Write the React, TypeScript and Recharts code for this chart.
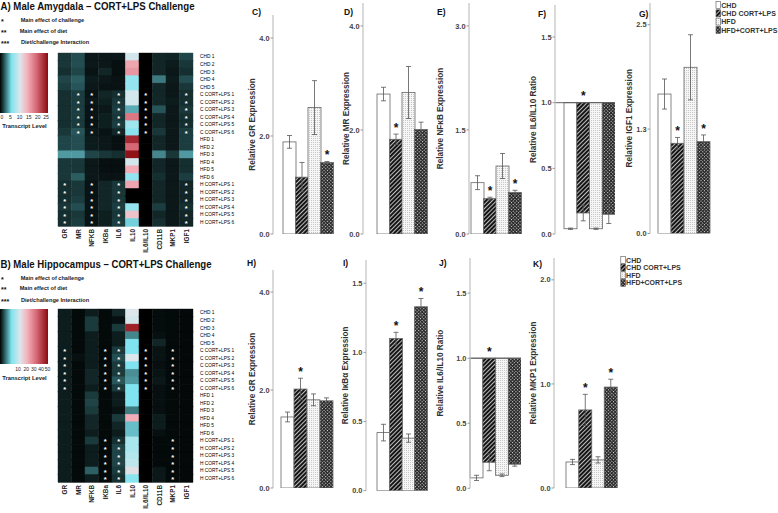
import React from 'react';
import { BarChart, Bar, XAxis, YAxis, ErrorBar, ReferenceLine } from 'recharts';

if (typeof document !== 'undefined') {
  document.body.style.margin = '0';
  document.body.style.background = '#ffffff';
}

const FONT = '"Liberation Sans", Arial, Helvetica, sans-serif';
const INK = '#222222';

// ---------------- data ----------------
const groups = ['CHD', 'CHD CORT+LPS', 'HFD', 'HFD+CORT+LPS'];
const geneCols = ['GR', 'MR', 'NFKB', 'IKBa', 'IL6', 'IL10', 'IL6/IL10', 'CD11B', 'MKP1', 'IGF1'];
const rowLabels = [
  'CHD 1', 'CHD 2', 'CHD 3', 'CHD 4', 'CHD 5',
  'C CORT+LPS 1', 'C CORT+LPS 2', 'C CORT+LPS 3', 'C CORT+LPS 4', 'C CORT+LPS 5', 'C CORT+LPS 6',
  'HFD 1', 'HFD 2', 'HFD 3', 'HFD 4', 'HFD 5', 'HFD 6',
  'H CORT+LPS 1', 'H CORT+LPS 2', 'H CORT+LPS 3', 'H CORT+LPS 4', 'H CORT+LPS 5', 'H CORT+LPS 6',
];

// transcript levels (GR, MR, NFKB, IKBa, IL6, IL10, IL6/IL10, CD11B, MKP1, IGF1)
const amygdalaLevels = [
  [1.4, 2.0, 0.6, 0.6, 0.6, 10, 0, 1.0, 0.9, 1.8],
  [1.4, 2.0, 0.6, 0.6, 0.4, 15, 0, 1.0, 0.7, 1.4],
  [1.2, 1.8, 0.5, 1.0, 0.4, 16, 0, 1.0, 0.6, 1.2],
  [1.8, 2.4, 0.7, 0.6, 0.5, 7, 0, 3.2, 0.7, 2.0],
  [1.6, 2.2, 0.6, 0.5, 0.5, 7, 0, 1.0, 0.6, 1.4],
  [1.2, 1.6, 0.5, 1.0, 1.2, 10, 0, 1.0, 0.6, 1.2],
  [1.2, 1.6, 0.6, 0.8, 1.4, 10, 0, 1.0, 0.7, 1.2],
  [1.2, 1.6, 0.5, 0.6, 1.6, 4.5, 0, 2.2, 0.6, 1.4],
  [1.2, 1.6, 0.5, 0.8, 1.4, 18, 0, 1.0, 0.6, 1.2],
  [1.2, 1.5, 0.5, 0.8, 1.6, 7.5, 0, 1.0, 0.6, 1.2],
  [1.4, 2.2, 0.6, 0.5, 1.0, 6.5, 0, 1.4, 0.6, 1.6],
  [1.8, 2.0, 0.7, 0.6, 0.4, 23, 0, 1.0, 0.6, 1.6],
  [1.8, 2.0, 0.7, 0.6, 0.4, 19, 0, 1.0, 0.6, 1.6],
  [4.0, 4.0, 1.8, 1.4, 1.2, 24.5, 0, 3.5, 1.4, 4.0],
  [1.4, 1.4, 0.6, 0.4, 0.4, 10, 0, 1.0, 0.6, 1.2],
  [1.4, 1.4, 0.6, 0.4, 0.4, 14.5, 0, 1.0, 0.6, 1.2],
  [1.4, 2.4, 0.6, 0.5, 0.5, 7, 0, 1.2, 0.6, 1.6],
  [1.2, 1.4, 0.5, 1.0, 1.4, 15, 0, 1.0, 0.6, 1.0],
  [1.2, 1.4, 0.5, 1.0, 1.4, 0, 0, 1.0, 0.6, 1.0],
  [1.2, 1.6, 0.5, 1.0, 1.4, 0, 0, 1.0, 0.6, 1.0],
  [1.4, 2.0, 0.5, 1.0, 1.6, 7, 0, 1.6, 0.6, 1.2],
  [1.2, 1.4, 0.5, 0.8, 1.4, 13, 0, 1.0, 0.6, 1.0],
  [1.2, 1.6, 0.5, 0.8, 1.6, 5.5, 0, 1.2, 0.6, 1.0],
];
const hippocampusLevels = [
  [1.5, 0.5, 1.5, 0.5, 2.0, 21, 0, 0.6, 0.5, 0.4],
  [1.5, 0.5, 3.0, 0.5, 0.8, 20, 0, 0.6, 0.5, 0.4],
  [1.5, 0.5, 3.0, 0.5, 3.0, 47, 0, 0.6, 0.5, 0.4],
  [1.5, 0.5, 1.5, 0.5, 1.5, 7, 0, 0.8, 0.5, 0.4],
  [1.5, 0.5, 1.5, 0.5, 1.5, 12, 0, 2.0, 0.5, 0.4],
  [1.5, 0.5, 1.5, 0.5, 3.0, 12, 0, 1.0, 0.5, 0.4],
  [1.5, 0.8, 1.5, 0.5, 4.0, 21, 0, 1.0, 0.5, 0.4],
  [1.5, 0.5, 1.5, 0.5, 3.0, 12, 0, 0.8, 0.5, 0.4],
  [1.5, 0.5, 2.0, 0.5, 3.0, 7.5, 0, 1.0, 0.5, 0.4],
  [1.5, 0.5, 2.0, 0.5, 4.5, 8, 0, 1.2, 0.5, 0.4],
  [1.5, 0.5, 1.5, 0.5, 3.0, 12, 0, 0.8, 0.5, 0.4],
  [1.5, 0.5, 3.0, 0.5, 1.5, 12, 0, 0.8, 0.5, 0.4],
  [1.5, 0.5, 3.5, 0.5, 1.5, 12, 0, 0.8, 0.5, 0.4],
  [1.5, 0.5, 3.0, 0.5, 1.0, 6.5, 0, 0.8, 0.5, 0.4],
  [1.5, 0.5, 2.0, 0.5, 3.0, 29, 0, 1.5, 0.5, 0.4],
  [1.5, 0.5, 2.0, 0.5, 2.0, 10, 0, 1.5, 0.5, 0.4],
  [1.5, 0.5, 1.5, 0.5, 1.5, 10, 0, 0.8, 0.5, 0.4],
  [1.5, 0.5, 3.0, 0.5, 2.5, 16, 0, 0.5, 0.5, 0.4],
  [1.5, 0.5, 1.5, 0.5, 3.5, 16, 0, 0.5, 0.5, 0.4],
  [1.5, 0.5, 1.5, 0.5, 3.5, 17, 0, 0.5, 0.5, 0.4],
  [1.5, 0.5, 1.5, 0.5, 3.5, 18, 0, 0.5, 0.5, 0.4],
  [1.5, 0.5, 5.0, 0.5, 3.0, 22, 0, 1.2, 0.5, 0.4],
  [1.5, 0.5, 1.5, 0.5, 2.5, 13, 0, 1.2, 0.5, 0.4],
];
const amygdalaStarsC = [1, 2, 4, 6, 9];
const amygdalaStarsH = [0, 2, 4, 9];
const hippocampusStarsC = [0, 3, 4, 6, 8];
const hippocampusStarsH = [3, 4, 8];
const amygdalaScaleLabels = [0, 5, 10, 15, 20, 25];
const hippocampusScaleLabels = [10, 20, 30, 40, 50];

// bar panels
const amyGR_mean = [1.88, 1.16, 2.58, 1.46];
const amyGR_sem = [0.13, 0.3, 0.55, 0.02];
const amyGR_star = [0, 0, 0, 1];
const amyMR_mean = [2.69, 1.82, 2.72, 2.01];
const amyMR_sem = [0.13, 0.1, 0.5, 0.14];
const amyMR_star = [0, 1, 0, 0];
const amyNFkB_mean = [0.74, 0.51, 0.98, 0.6];
const amyNFkB_sem = [0.1, 0.02, 0.18, 0.03];
const amyNFkB_star = [0, 1, 0, 1];
const amyRatio_mean = [0.04, 0.16, 0.04, 0.15];
const amyRatio_sem = [0.005, 0.06, 0.005, 0.07];
const amyRatio_star = [0, 1, 0, 0];
const amyIGF1_mean = [1.67, 1.08, 1.99, 1.1];
const amyIGF1_sem = [0.18, 0.07, 0.39, 0.08];
const amyIGF1_star = [0, 1, 0, 1];
const hipGR_mean = [1.45, 2.02, 1.8, 1.78];
const hipGR_sem = [0.1, 0.22, 0.12, 0.06];
const hipGR_star = [0, 1, 0, 0];
const hipIkBa_mean = [0.42, 1.1, 0.38, 1.33];
const hipIkBa_sem = [0.06, 0.045, 0.03, 0.06];
const hipIkBa_star = [0, 1, 0, 1];
const hipRatio_mean = [0.08, 0.2, 0.1, 0.185];
const hipRatio_sem = [0.02, 0.065, 0.01, 0.015];
const hipRatio_star = [0, 1, 0, 0];
const hipMKP1_mean = [0.25, 0.75, 0.27, 0.97];
const hipMKP1_sem = [0.025, 0.15, 0.03, 0.075];
const hipMKP1_star = [0, 1, 0, 1];

// ---------------- styling ----------------
const heatStops: [number, string][] = [
  [0, '#000000'],
  [0.1, '#2c6064'],
  [0.24, '#7fe4f0'],
  [0.42, '#dde6ea'],
  [0.56, '#f4b4be'],
  [0.76, '#d66876'],
  [1, '#8a0a10'],
];
const groupFill: Record<string, string> = {
  'CHD': '#ffffff',
  'CHD CORT+LPS': 'url(#pHatch)',
  'HFD': 'url(#pDots)',
  'HFD+CORT+LPS': 'url(#pCheck)',
};

function hexRgb(h: string) {
  return [parseInt(h.slice(1, 3), 16), parseInt(h.slice(3, 5), 16), parseInt(h.slice(5, 7), 16)];
}
function heatColor(t: number) {
  const v = Math.max(0, Math.min(1, t));
  for (let i = 1; i < heatStops.length; i++) {
    if (v <= heatStops[i][0]) {
      const [t0, c0] = heatStops[i - 1];
      const [t1, c1] = heatStops[i];
      const f = (v - t0) / (t1 - t0);
      const a = hexRgb(c0), b = hexRgb(c1);
      return `rgb(${a.map((x, k) => Math.round(x + (b[k] - x) * f)).join(',')})`;
    }
  }
  return heatStops[heatStops.length - 1][1];
}

function buildHeat(levels: number[][], starsC: number[], starsH: number[]) {
  return rowLabels.map((row, r) => {
    const e: any = { row };
    const isC = row.startsWith('C CORT');
    const isH = row.startsWith('H CORT');
    geneCols.forEach((_, j) => {
      e['c' + j] = 1;
      e['v' + j] = levels[r][j];
      e['s' + j] = (isC && starsC.includes(j)) || (isH && starsH.includes(j));
    });
    return e;
  });
}

const colTickValues = geneCols.map((_, j) => j + 0.5);

function Heatmap({ data, max, top }: { data: any[]; max: number; top: number }) {
  const ColTick = (p: any) => {
    const { x, y, payload } = p;
    const yy = y + 1;
    return (
      <text x={x} y={yy} transform={`rotate(-90 ${x} ${yy})`} textAnchor="end" dy="0.36em"
        fontSize={6.4} fontWeight="bold" fill={INK} fontFamily={FONT}>
        {geneCols[Math.floor(payload.value)]}
      </text>
    );
  };
  const RowTick = (p: any) => {
    const { x, y, payload } = p;
    return (
      <text x={x} y={y} dy="0.36em" textAnchor="start" fontSize={4.8} fill="#000000" fontFamily={FONT}
        style={{ fill: '#000000' }}>
        {payload.value}
      </text>
    );
  };
  return (
    <div style={{ position: 'absolute', left: 0, top }}>
      <BarChart width={240} height={262} data={data} layout="vertical" barCategoryGap={0} barGap={0}
        margin={{ top: 53, right: 0, bottom: 0, left: 58 }}>
        <XAxis type="number" domain={[0, 10]} ticks={colTickValues} interval={0} axisLine={false}
          tickLine={false} tickSize={0} tickMargin={2} height={36} tick={ColTick} />
        <YAxis type="category" dataKey="row" orientation="right" width={47} interval={0}
          axisLine={false} tickLine={false} tickSize={0} tickMargin={7} tick={RowTick} />
        {geneCols.map((g, j) => (
          <Bar key={g} dataKey={'c' + j} stackId="h" isAnimationActive={false}
            shape={(p: any) => {
              const fill = heatColor(p.payload['v' + j] / max);
              return (
                <g>
                  <rect x={p.x} y={p.y} width={p.width} height={p.height} fill={fill} stroke={fill} strokeWidth={0.4} />
                  {p.payload['s' + j] ? (
                    <text x={p.x + p.width / 2} y={p.y + p.height / 2 + 3.6} textAnchor="middle" fontSize={7.5}
                      fontWeight="bold" fill="#ffffff" fontFamily={FONT}>*</text>
                  ) : null}
                </g>
              );
            }} />
        ))}
      </BarChart>
    </div>
  );
}

type PanelDef = {
  key: string; letter: string; title: string; mean: number[]; sem: number[]; star: number[];
  hang: boolean; max: number; ticks: number[];
};
const panelDefs: PanelDef[] = [
  { key: 'C', letter: 'C)', title: 'Relative GR Expression', mean: amyGR_mean, sem: amyGR_sem, star: amyGR_star, hang: false, max: 4.47, ticks: [0, 2, 4] },
  { key: 'D', letter: 'D)', title: 'Relative MR Expression', mean: amyMR_mean, sem: amyMR_sem, star: amyMR_star, hang: false, max: 4.44, ticks: [0, 2, 4] },
  { key: 'E', letter: 'E)', title: 'Relative NFκB Expression', mean: amyNFkB_mean, sem: amyNFkB_sem, star: amyNFkB_star, hang: false, max: 3.33, ticks: [0, 1.5, 3] },
  { key: 'F', letter: 'F)', title: 'Relative IL6/IL10 Ratio', mean: amyRatio_mean, sem: amyRatio_sem, star: amyRatio_star, hang: true, max: 1.744, ticks: [0, 0.5, 1, 1.5] },
  { key: 'G', letter: 'G)', title: 'Relative IGF1 Expression', mean: amyIGF1_mean, sem: amyIGF1_sem, star: amyIGF1_star, hang: false, max: 2.76, ticks: [0, 1.25, 2.5] },
  { key: 'H', letter: 'H)', title: 'Relative GR Expression', mean: hipGR_mean, sem: hipGR_sem, star: hipGR_star, hang: false, max: 4.45, ticks: [0, 2, 4] },
  { key: 'I', letter: 'I)', title: 'Relative IκBα Expression', mean: hipIkBa_mean, sem: hipIkBa_sem, star: hipIkBa_star, hang: false, max: 1.668, ticks: [0, 0.5, 1, 1.5] },
  { key: 'J', letter: 'J)', title: 'Relative IL6/IL10 Ratio', mean: hipRatio_mean, sem: hipRatio_sem, star: hipRatio_star, hang: true, max: 1.77, ticks: [0, 0.5, 1, 1.5] },
  { key: 'K', letter: 'K)', title: 'Relative MKP1 Expression', mean: hipMKP1_mean, sem: hipMKP1_sem, star: hipMKP1_star, hang: false, max: 2.21, ticks: [0, 1, 2] },
];
const panelLayout: Record<string, any> = {
  C: { axisX: 273, divTop: 0, yTop: 15, yZero: 234, padL: 10, padR: 10, plotW: 70, titleX: 252, letterX: 252, letterY: 15 },
  D: { axisX: 363, divTop: 0, yTop: 3, yZero: 234, padL: 14, padR: 8, plotW: 72, titleX: 346, letterX: 344, letterY: 15 },
  E: { axisX: 469, divTop: 0, yTop: 3, yZero: 234, padL: 2, padR: 6, plotW: 58, titleX: 440, letterX: 437, letterY: 15 },
  F: { axisX: 555, divTop: 0, yTop: 5, yZero: 234, padL: 9, padR: 0, plotW: 60, titleX: 533, letterX: 538, letterY: 17 },
  G: { axisX: 650, divTop: 0, yTop: 3, yZero: 233.5, padL: 8, padR: 4, plotW: 64, titleX: 629, letterX: 639, letterY: 17 },
  H: { axisX: 273, divTop: 250, yTop: 270, yZero: 488, padL: 8, padR: 8, plotW: 68, titleX: 252, letterX: 247, letterY: 266 },
  I: { axisX: 366, divTop: 250, yTop: 260, yZero: 490.7, padL: 11, padR: 6, plotW: 67, titleX: 345, letterX: 343, letterY: 266 },
  J: { axisX: 470, divTop: 250, yTop: 258, yZero: 488.3, padL: 0, padR: 0, plotW: 51, titleX: 440, letterX: 439, letterY: 266 },
  K: { axisX: 554, divTop: 250, yTop: 258, yZero: 488, padL: 12, padR: 6, plotW: 69, titleX: 533, letterX: 533, letterY: 267 },
};

const W_Y = 44;

function Panel({ def }: { def: PanelDef }) {
  const L = panelLayout[def.key];
  const data = groups.map((g, i) => ({
    group: g, mean: def.mean[i], sem: def.sem[i], star: def.star[i], range: [1, def.mean[i]],
  }));
  const width = W_Y + L.plotW;
  const height = L.yZero - L.divTop + 6;
  const shape = (p: any) => {
    const d = p.payload;
    const top = Math.min(p.y, p.y + p.height);
    const h = Math.abs(p.height);
    const span = def.hang ? Math.abs(1 - d.mean) : d.mean;
    const ppu = span > 0 ? h / span : 0;
    const starBase = def.hang ? top - 2.2 : p.y - d.sem * ppu - 2.2;
    return (
      <g>
        <rect x={p.x} y={top} width={p.width} height={h} fill={groupFill[d.group]} stroke="#666666" strokeWidth={0.8} />
        {d.star ? (
          <text x={p.x + p.width / 2} y={starBase} textAnchor="middle" fontSize={12} fontWeight="bold"
            fill="#111" fontFamily={FONT}>*</text>
        ) : null}
      </g>
    );
  };
  return (
    <div style={{ position: 'absolute', left: L.axisX - W_Y, top: L.divTop }}>
      <BarChart width={width} height={height} data={data} barCategoryGap={0} barGap={0}
        margin={{ top: L.yTop - L.divTop, right: 0, bottom: 6, left: 0 }}>
        <XAxis dataKey="group" hide padding={{ left: L.padL, right: L.padR }} />
        <YAxis type="number" width={W_Y} domain={[0, def.max]} ticks={def.ticks} allowDataOverflow interval={0}
          tickFormatter={(v: number) => v.toFixed(1)}
          axisLine={{ stroke: '#c6c6c6', strokeWidth: 1.3 }} tickLine={{ stroke: '#9a9a9a' }} tickSize={2.5} tickMargin={1}
          tick={{ fontSize: 7.4, fontWeight: 'bold', fill: '#444', fontFamily: FONT }}
          label={{
            value: def.title, angle: -90, position: 'insideLeft', offset: L.titleX - (L.axisX - W_Y),
            style: { textAnchor: 'middle', fontSize: 8.2, fontWeight: 'bold', fill: '#333', fontFamily: FONT },
          }} />
        <Bar dataKey={def.hang ? 'range' : 'mean'} isAnimationActive={false} shape={shape}>
          <ErrorBar dataKey="sem" width={2.5} stroke="#555" strokeWidth={0.8} direction="y" />
        </Bar>
        {def.hang ? <ReferenceLine y={1} stroke="#555" strokeWidth={0.9} /> : null}
      </BarChart>
    </div>
  );
}

function LegendBlock({ x, y, step }: { x: number; y: number; step: number }) {
  return (
    <g>
      {groups.map((g, i) => (
        <g key={g}>
          <rect x={x} y={y + i * step - 3.5} width={4.6} height={7} fill={groupFill[g]} stroke="#555" strokeWidth={0.6} />
          <text x={x + 5.3} y={y + i * step + 2.6} fontSize={7} fontWeight="bold" fill="#333" fontFamily={FONT}>{g}</text>
        </g>
      ))}
    </g>
  );
}

function KeyBlock({ y0, title, titleLen }: { y0: number; title: string; titleLen: number }) {
  const lines = [
    { s: '*', t: 'Main effect of challenge', dy: 12, tx: 20.7 },
    { s: '**', t: 'Main effect of diet', dy: 22.5, tx: 19.7 },
    { s: '***', t: 'Diet/challenge Interaction', dy: 34, tx: 21 },
  ];
  return (
    <g fontFamily={FONT}>
      <text x={0.5} y={y0} fontSize={10.5} fontWeight="bold" fill="#111" textLength={titleLen} lengthAdjust="spacingAndGlyphs">{title}</text>
      {lines.map((l) => (
        <g key={l.s}>
          <text x={1} y={y0 + l.dy + 2} fontSize={7} fontWeight="bold" fill="#111">{l.s}</text>
          <text x={l.tx} y={y0 + l.dy} fontSize={5.6} fontWeight="bold" fill="#222">{l.t}</text>
        </g>
      ))}
    </g>
  );
}

function ColourBar({ y, h, labels, labelXs, labelY, titleY }: any) {
  return (
    <g fontFamily={FONT}>
      <rect x={0} y={y} width={48} height={h} fill="url(#heatGrad)" />
      {labels.map((v: number, i: number) => (
        <text key={v} x={labelXs[i]} y={labelY} textAnchor="middle" fontSize={5} fill="#222">{v}</text>
      ))}
      <text x={24.5} y={titleY} textAnchor="middle" fontSize={5.8} fontWeight="bold" fill="#222">Transcript Level</text>
    </g>
  );
}

export default function App() {
  const amyData = buildHeat(amygdalaLevels, amygdalaStarsC, amygdalaStarsH);
  const hipData = buildHeat(hippocampusLevels, hippocampusStarsC, hippocampusStarsH);
  return (
    <div style={{ position: 'relative', width: 778, height: 513, background: '#fff', overflow: 'hidden', fontFamily: FONT }}>
      <svg width={778} height={513} style={{ position: 'absolute', left: 0, top: 0 }}>
        <defs>
          <linearGradient id="heatGrad" x1="0" y1="0" x2="1" y2="0">
            {heatStops.map(([o, c]) => <stop key={o} offset={o} stopColor={c} />)}
          </linearGradient>
          <pattern id="pHatch" patternUnits="userSpaceOnUse" width="3" height="3" patternTransform="rotate(45)">
            <rect width="3" height="3" fill="#151515" />
            <rect x="0" y="0" width="0.8" height="3" fill="#e6e6e6" />
          </pattern>
          <pattern id="pDots" patternUnits="userSpaceOnUse" width="2" height="2">
            <rect width="2" height="2" fill="#f6f6f6" />
            <rect x="0" y="0" width="1" height="1" fill="#c8c8c8" />
          </pattern>
          <pattern id="pCheck" patternUnits="userSpaceOnUse" width="2.4" height="2.4" patternTransform="rotate(45)">
            <rect width="2.4" height="2.4" fill="#262626" />
            <rect width="1.1" height="1.1" fill="#dcdcdc" />
          </pattern>
        </defs>
        <KeyBlock y0={10} title="A) Male Amygdala – CORT+LPS Challenge" titleLen={194} />
        <KeyBlock y0={267.5} title="B) Male Hippocampus – CORT+LPS Challenge" titleLen={211} />
        <ColourBar y={53} h={60} labels={amygdalaScaleLabels} labelXs={[1.8, 10.4, 19.6, 28.8, 37.8, 46]} labelY={119} titleY={127.5} />
        <ColourBar y={309} h={55} labels={hippocampusScaleLabels} labelXs={[18, 26.2, 33.8, 41, 47.5]} labelY={371} titleY={380} />
        {panelDefs.map((d) => (
          <text key={d.key} x={panelLayout[d.key].letterX} y={panelLayout[d.key].letterY} fontSize={8.5}
            fontWeight="bold" fill="#111" fontFamily={FONT}>{d.letter}</text>
        ))}
        <LegendBlock x={716} y={5} step={8.3} />
        <LegendBlock x={620.8} y={260} step={7.6} />
      </svg>
      <Heatmap data={amyData} max={25} top={0} />
      <Heatmap data={hipData} max={50} top={256} />
      {panelDefs.map((d) => <Panel key={d.key} def={d} />)}
    </div>
  );
}
